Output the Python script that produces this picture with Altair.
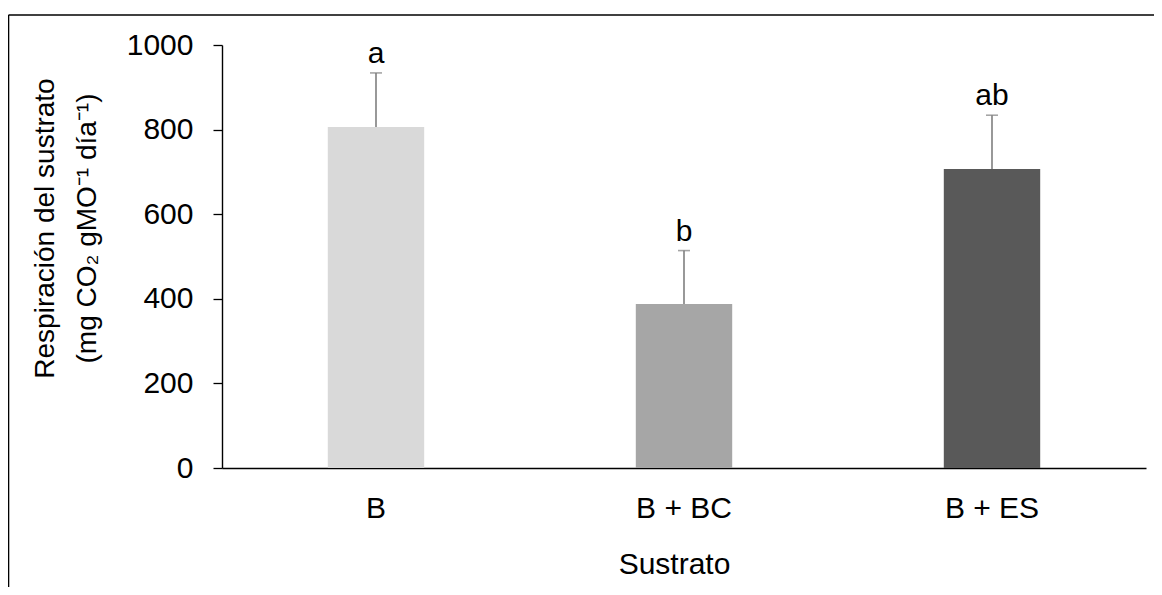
import altair as alt
import pandas as pd

categories = ["B", "B + BC", "B + ES"]
means = [806, 388, 707]
errors = [128, 126, 127]
letters = ["a", "b", "ab"]
colors = ["#d9d9d9", "#a6a6a6", "#595959"]
y_ticks = [0, 200, 400, 600, 800, 1000]
y_title = ["Respiración del sustrato", "(mg CO\u2082 gMO\u207b\u00b9 día\u207b\u00b9)"]
x_title = "Sustrato"

df = pd.DataFrame({"Sustrato": categories, "mean": means, "err": errors, "letter": letters})
df["upper"] = df["mean"] + df["err"]
frame_df = pd.DataFrame({"k": [0]})

W, H = 924, 423
PAD = {"left": 214, "top": 37, "right": 8, "bottom": 119}
FONT = "Liberation Sans"
FS = 30

xenc = alt.X(
    "Sustrato:N",
    sort=categories,
    scale=alt.Scale(paddingInner=0.687, paddingOuter=0.3435),
    axis=alt.Axis(
        title=x_title, labelAngle=0, ticks=False, tickSize=0, labelPadding=25,
        domainColor="black", domainWidth=1.4,
        titleX=452, titleY=81, titleAlign="center", titleBaseline="top",
    ),
)
yscale = alt.Scale(domain=[0, 1000], nice=False)
yaxis = alt.Axis(
    title=y_title, values=y_ticks, format="d", grid=False, tickSize=9, labelPadding=20,
    tickColor="black", domainColor="black", tickWidth=1.3, domainWidth=1.4,
    titleX=-190.7, titleY=183, titleAlign="center", titleBaseline="top",
    titleAngle=270, titleLineHeight=42, titleFontSize=28,
)

base = alt.Chart(df)

bars = base.mark_bar().encode(
    x=xenc,
    y=alt.Y("mean:Q", scale=yscale, axis=yaxis),
    color=alt.Color("Sustrato:N", scale=alt.Scale(domain=categories, range=colors), legend=None),
)
rule = base.mark_rule(color="#7f7f7f", strokeWidth=1.6).encode(
    x=xenc, y=alt.Y("mean:Q", scale=yscale, axis=yaxis), y2="upper:Q"
)
cap = base.mark_tick(color="#7f7f7f", size=12, thickness=1.6).encode(
    x=xenc, y=alt.Y("upper:Q", scale=yscale, axis=yaxis)
)
text = base.mark_text(dy=-10, baseline="alphabetic", fontSize=FS, font=FONT, color="black").encode(
    x=xenc, y=alt.Y("upper:Q", scale=yscale, axis=yaxis), text="letter:N"
)

frame_top = alt.Chart(frame_df).mark_rule(color="black", strokeWidth=1.6).encode(
    x=alt.value(-213.5), x2=alt.value(W + 8), y=alt.value(-30)
)
frame_left = alt.Chart(frame_df).mark_rule(color="black", strokeWidth=1.6).encode(
    x=alt.value(-213.5), y=alt.value(-30), y2=alt.value(H + 119)
)

chart = alt.layer(frame_top, frame_left, bars, rule, cap, text).properties(
    width=W, height=H, padding=PAD, autosize=alt.AutoSizeParams(type="none")
).configure_view(stroke=None).configure_axis(
    labelFont=FONT, titleFont=FONT, labelFontSize=FS, titleFontSize=FS,
    labelColor="black", titleColor="black", titleFontWeight="normal",
)

chart.save("out.html", embed_options={"renderer": "svg", "actions": False})
